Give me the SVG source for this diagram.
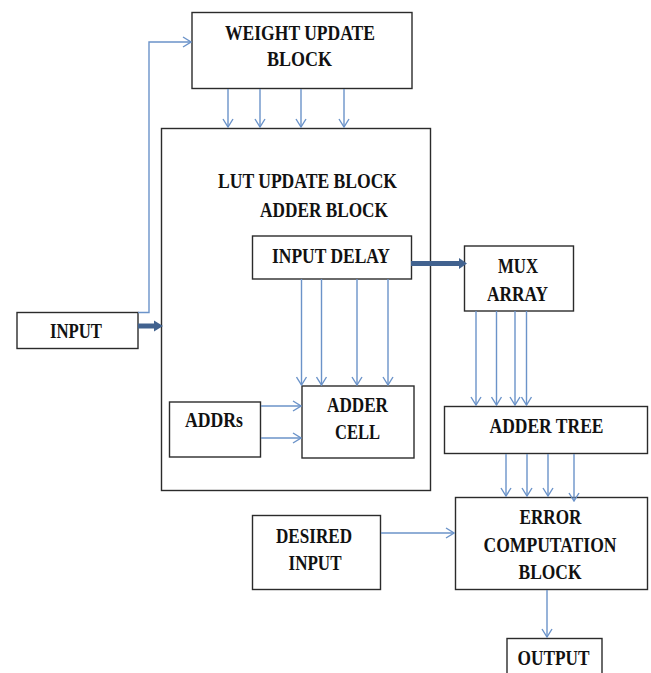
<svg xmlns="http://www.w3.org/2000/svg" width="651" height="673" viewBox="0 0 651 673">
<style>
.box{fill:#fff;stroke:#2b2b2b;stroke-width:1.4}
.t{font-family:"Liberation Serif","Times New Roman",serif;font-weight:bold;font-size:20px;fill:#111}
.ln{fill:none;stroke:#6b93c9;stroke-width:1.4}
.thick{fill:none;stroke:#41628f;stroke-width:5}
.thickhead{fill:#41628f}
</style>
<defs>
<marker id="open" viewBox="0 0 10 12" refX="9" refY="6" markerWidth="10" markerHeight="12" markerUnits="userSpaceOnUse" orient="auto">
<path d="M1,1 L9,6 L1,11" fill="none" stroke="#6b93c9" stroke-width="1.4"/>
</marker>
</defs>
<rect width="651" height="673" fill="#fff"/>

<g id="lut-block">
<rect class="box" x="161.5" y="128.5" width="269" height="362"/>
<text class="t" x="218" y="188" textLength="179" lengthAdjust="spacingAndGlyphs">LUT UPDATE BLOCK</text>
<text class="t" x="260" y="216.5" textLength="128" lengthAdjust="spacingAndGlyphs">ADDER BLOCK</text>
</g>

<g id="weight-update">
<rect class="box" x="192" y="12.5" width="220" height="76"/>
<text class="t" x="225" y="39.5" textLength="150" lengthAdjust="spacingAndGlyphs">WEIGHT UPDATE</text>
<text class="t" x="267" y="65.5" textLength="65" lengthAdjust="spacingAndGlyphs">BLOCK</text>
</g>

<g id="input">
<rect class="box" x="17" y="312.5" width="121" height="36"/>
<text class="t" x="50" y="338" textLength="52" lengthAdjust="spacingAndGlyphs">INPUT</text>
</g>

<g id="input-delay">
<rect class="box" x="252.5" y="236" width="159" height="43"/>
<text class="t" x="272" y="263" textLength="118" lengthAdjust="spacingAndGlyphs">INPUT DELAY</text>
</g>

<g id="mux-array">
<rect class="box" x="464.5" y="246" width="109" height="65"/>
<text class="t" x="498" y="273" textLength="40" lengthAdjust="spacingAndGlyphs">MUX</text>
<text class="t" x="487" y="300.5" textLength="61" lengthAdjust="spacingAndGlyphs">ARRAY</text>
</g>

<g id="addrs">
<rect class="box" x="169.5" y="402" width="91" height="55"/>
<text class="t" x="185" y="427" textLength="58" lengthAdjust="spacingAndGlyphs">ADDRs</text>
</g>

<g id="adder-cell">
<rect class="box" x="302" y="386" width="112" height="72"/>
<text class="t" x="327" y="411.5" textLength="61" lengthAdjust="spacingAndGlyphs">ADDER</text>
<text class="t" x="335" y="439" textLength="45" lengthAdjust="spacingAndGlyphs">CELL</text>
</g>

<g id="adder-tree">
<rect class="box" x="444.5" y="406.5" width="203" height="47"/>
<text class="t" x="489.5" y="433" textLength="114" lengthAdjust="spacingAndGlyphs">ADDER TREE</text>
</g>

<g id="error-computation">
<rect class="box" x="455.5" y="497.5" width="192" height="92"/>
<text class="t" x="519.5" y="524" textLength="62" lengthAdjust="spacingAndGlyphs">ERROR</text>
<text class="t" x="483.5" y="551.5" textLength="133" lengthAdjust="spacingAndGlyphs">COMPUTATION</text>
<text class="t" x="518.5" y="578.5" textLength="63" lengthAdjust="spacingAndGlyphs">BLOCK</text>
</g>

<g id="desired-input">
<rect class="box" x="252.5" y="515.5" width="128" height="74"/>
<text class="t" x="276" y="542.5" textLength="76" lengthAdjust="spacingAndGlyphs">DESIRED</text>
<text class="t" x="288.5" y="570" textLength="53" lengthAdjust="spacingAndGlyphs">INPUT</text>
</g>

<g id="output">
<rect class="box" x="507" y="638.5" width="95" height="40"/>
<text class="t" x="517.5" y="665" textLength="72" lengthAdjust="spacingAndGlyphs">OUTPUT</text>
</g>

<g id="connectors">
<path class="ln" d="M138,312.5 H149 V42 H191" marker-end="url(#open)"/>
<path class="ln" d="M228,89 V127" marker-end="url(#open)"/>
<path class="ln" d="M260,89 V127" marker-end="url(#open)"/>
<path class="ln" d="M301,89 V127" marker-end="url(#open)"/>
<path class="ln" d="M344,89 V127" marker-end="url(#open)"/>
<path class="ln" d="M301.5,279 V385" marker-end="url(#open)"/>
<path class="ln" d="M321.5,279 V385" marker-end="url(#open)"/>
<path class="ln" d="M357,279 V385" marker-end="url(#open)"/>
<path class="ln" d="M388,279 V385" marker-end="url(#open)"/>
<path class="ln" d="M476,311 V405" marker-end="url(#open)"/>
<path class="ln" d="M496.5,311 V405" marker-end="url(#open)"/>
<path class="ln" d="M515,311 V405" marker-end="url(#open)"/>
<path class="ln" d="M526.5,311 V405" marker-end="url(#open)"/>
<path class="ln" d="M261,406 H301" marker-end="url(#open)"/>
<path class="ln" d="M261,438 H301" marker-end="url(#open)"/>
<path class="ln" d="M506,454 V496" marker-end="url(#open)"/>
<path class="ln" d="M527,454 V496" marker-end="url(#open)"/>
<path class="ln" d="M548,454 V496" marker-end="url(#open)"/>
<path class="ln" d="M574,454 V501" marker-end="url(#open)"/>
<path class="ln" d="M381,533 H454" marker-end="url(#open)"/>
<path class="ln" d="M547,590 V637" marker-end="url(#open)"/>
<path class="thick" d="M138,326 H155"/>
<polygon class="thickhead" points="154,320.5 163,326 154,331.5"/>
<path class="thick" d="M411,263.5 H460"/>
<polygon class="thickhead" points="459,258 467,263.5 459,269"/>
</g>
</svg>
